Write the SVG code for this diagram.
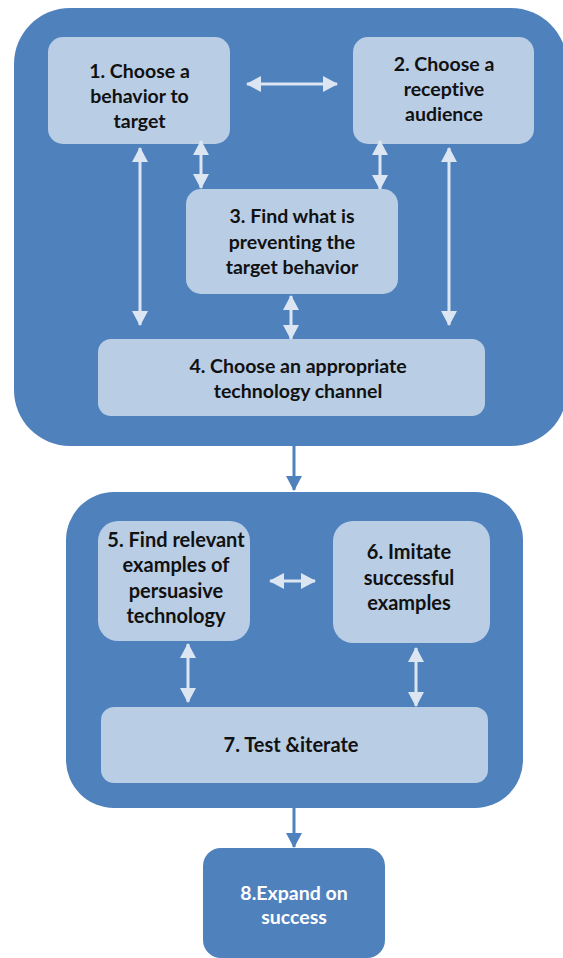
<svg xmlns="http://www.w3.org/2000/svg" width="563" height="958" viewBox="0 0 563 958">
  <defs>
    <style>
      .group { fill: #4F81BD; }
      .step { fill: #B9CDE5; }
      .final { fill: #4F81BD; }
      .label { font-family: Lato, "Liberation Sans", Arial, sans-serif; font-weight: bold; font-size: 19.5px; fill: #111111; text-anchor: middle; font-variant-ligatures: none; }
      .label.lg { font-size: 20px; }
      .label.light { fill: #FFFFFF; }
      .link { stroke: #DCE6F2; stroke-width: 3; fill: none; }
      .flow { stroke: #4F81BD; stroke-width: 3; fill: none; }
    </style>
    <marker id="headLight" viewBox="0 0 15 16" markerUnits="userSpaceOnUse" markerWidth="15" markerHeight="16" refX="14" refY="8" orient="auto-start-reverse">
      <path d="M0,0 L15,8 L0,16 z" fill="#DCE6F2"/>
    </marker>
    <marker id="headBlue" viewBox="0 0 15 16" markerUnits="userSpaceOnUse" markerWidth="15" markerHeight="16" refX="14" refY="8" orient="auto">
      <path d="M0,0 L15,8 L0,16 z" fill="#4F81BD"/>
    </marker>
  </defs>

  <!-- outer groupings -->
  <rect id="phase-a" class="group" x="14" y="8" width="553" height="438" rx="56"/>
  <rect id="phase-b" class="group" x="66" y="492" width="457" height="316" rx="48"/>

  <g id="node1">
    <rect class="step" x="48" y="37" width="182" height="107" rx="15"/>
    <text class="label" x="139.5" y="78">1. Choose a</text>
    <text class="label" x="139.5" y="103">behavior to</text>
    <text class="label" x="139.5" y="128">target</text>
  </g>
  <g id="node2">
    <rect class="step" x="353" y="37" width="181" height="107" rx="15"/>
    <text class="label" x="444" y="71">2. Choose a</text>
    <text class="label" x="444" y="96">receptive</text>
    <text class="label" x="444" y="121">audience</text>
  </g>
  <g id="node3">
    <rect class="step" x="186" y="189" width="212" height="105" rx="15"/>
    <text class="label" x="292" y="223">3. Find what is</text>
    <text class="label" x="292" y="248.5">preventing the</text>
    <text class="label" x="292" y="274">target behavior</text>
  </g>
  <g id="node4">
    <rect class="step" x="98" y="339" width="387" height="77" rx="13"/>
    <text class="label" x="298" y="373">4. Choose an appropriate</text>
    <text class="label" x="298" y="398">technology channel</text>
  </g>
  <g id="node5">
    <rect class="step" x="98" y="521" width="152" height="120" rx="20"/>
    <text class="label lg" x="176" y="547">5. Find relevant</text>
    <text class="label lg" x="176" y="572">examples of</text>
    <text class="label lg" x="176" y="598">persuasive</text>
    <text class="label lg" x="176" y="623">technology</text>
  </g>
  <g id="node6">
    <rect class="step" x="333" y="521" width="157" height="122" rx="20"/>
    <text class="label lg" x="409" y="559">6. Imitate</text>
    <text class="label lg" x="409" y="585">successful</text>
    <text class="label lg" x="409" y="610">examples</text>
  </g>
  <g id="node7">
    <rect class="step" x="101" y="707" width="387" height="76" rx="13"/>
    <text class="label lg" x="291" y="752">7. Test &amp;iterate</text>
  </g>
  <g id="node8">
    <rect class="final" x="203" y="848" width="182" height="110" rx="18"/>
    <text class="label light" x="294" y="900">8.Expand on</text>
    <text class="label light" x="294" y="924">success</text>
  </g>

  <g id="connectors">
    <line class="link" x1="247" y1="84" x2="337" y2="84" marker-start="url(#headLight)" marker-end="url(#headLight)"/>
    <line class="link" x1="140" y1="148" x2="140" y2="325" marker-start="url(#headLight)" marker-end="url(#headLight)"/>
    <line class="link" x1="201" y1="141" x2="201" y2="188" marker-start="url(#headLight)" marker-end="url(#headLight)"/>
    <line class="link" x1="380" y1="141" x2="380" y2="189" marker-start="url(#headLight)" marker-end="url(#headLight)"/>
    <line class="link" x1="449" y1="148" x2="449" y2="325" marker-start="url(#headLight)" marker-end="url(#headLight)"/>
    <line class="link" x1="291" y1="296" x2="291" y2="339" marker-start="url(#headLight)" marker-end="url(#headLight)"/>
    <line class="link" x1="270" y1="581" x2="315" y2="581" marker-start="url(#headLight)" marker-end="url(#headLight)"/>
    <line class="link" x1="188" y1="644" x2="188" y2="702" marker-start="url(#headLight)" marker-end="url(#headLight)"/>
    <line class="link" x1="416" y1="648" x2="416" y2="706" marker-start="url(#headLight)" marker-end="url(#headLight)"/>
    <line class="flow" x1="294" y1="446" x2="294" y2="490" marker-end="url(#headBlue)"/>
    <line class="flow" x1="294" y1="808" x2="294" y2="847" marker-end="url(#headBlue)"/>
  </g>
</svg>
